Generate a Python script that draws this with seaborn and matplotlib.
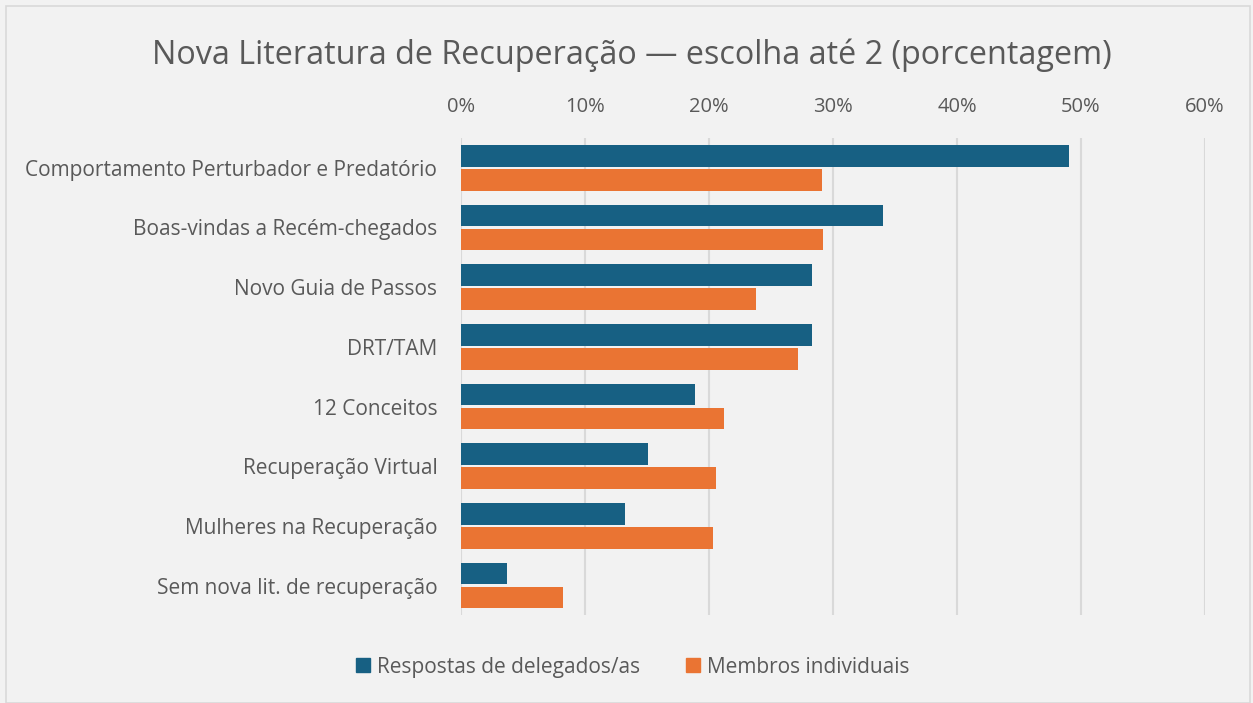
import pandas as pd
import seaborn as sns
import matplotlib.pyplot as plt
from matplotlib.patches import Rectangle
from matplotlib.ticker import PercentFormatter

# data
categorias = [
    "Comportamento Perturbador e Predatório",
    "Boas-vindas a Recém-chegados",
    "Novo Guia de Passos",
    "DRT/TAM",
    "12 Conceitos",
    "Recuperação Virtual",
    "Mulheres na Recuperação",
    "Sem nova lit. de recuperação",
]
delegados = [49.0, 34.0, 28.3, 28.3, 18.9, 15.1, 13.2, 3.7]
membros = [29.1, 29.2, 23.8, 27.2, 21.2, 20.6, 20.3, 8.2]
series = ["Respostas de delegados/as", "Membros individuais"]
cores = ["#176083", "#EA7433"]

df = pd.DataFrame({
    "cat": categorias * 2,
    "val": delegados + membros,
    "serie": [series[0]] * len(categorias) + [series[1]] * len(categorias),
})

sns.set_style("white")
plt.rcParams["font.family"] = ["Open Sans", "DejaVu Sans"]
bg = "#F2F2F2"
txt = "#595959"

fig = plt.figure(figsize=(12.53, 7.03), dpi=100, facecolor=bg)
ax = fig.add_axes([0.3679, 0.1247, 0.5938, 0.679])
ax.set_facecolor(bg)

sns.barplot(data=df, y="cat", x="val", hue="serie", palette=cores,
            orient="h", width=0.8, gap=0.1, saturation=1, ax=ax,
            edgecolor="none")

ax.set_xlim(0, 60)
ax.set_xticks(range(0, 61, 10))
ax.xaxis.set_major_formatter(PercentFormatter(decimals=0))
ax.xaxis.tick_top()
ax.tick_params(axis="x", length=0, pad=15, labelsize=14.5, labelcolor=txt)
ax.tick_params(axis="y", length=0, pad=17, labelsize=15, labelcolor=txt)
ax.grid(axis="x", color="#D9D9D9", linewidth=1.5)
ax.set_axisbelow(True)
for s in ax.spines.values():
    s.set_visible(False)
ax.set_xlabel("")
ax.set_ylabel("")

ax.legend_.remove()
handles = [Rectangle((0, 0), 1, 1, color=c) for c in cores]
fig.legend(handles, series, loc="center", bbox_to_anchor=(0.505, 0.051),
           ncol=2, frameon=False, fontsize=15, labelcolor=txt,
           handlelength=0.65, handleheight=0.65, handletextpad=0.35,
           columnspacing=2.2)

fig.suptitle("Nova Literatura de Recuperação — escolha até 2 (porcentagem)",
             x=0.504, y=0.945, fontsize=23.3, color=txt)

# moldura do gráfico
fig.patches.append(Rectangle((0.005, 0.0), 0.993, 0.991, transform=fig.transFigure,
                             fill=False, edgecolor="#D9D9D9", linewidth=1.2))

fig.savefig("out.png", dpi=100, facecolor=bg)
